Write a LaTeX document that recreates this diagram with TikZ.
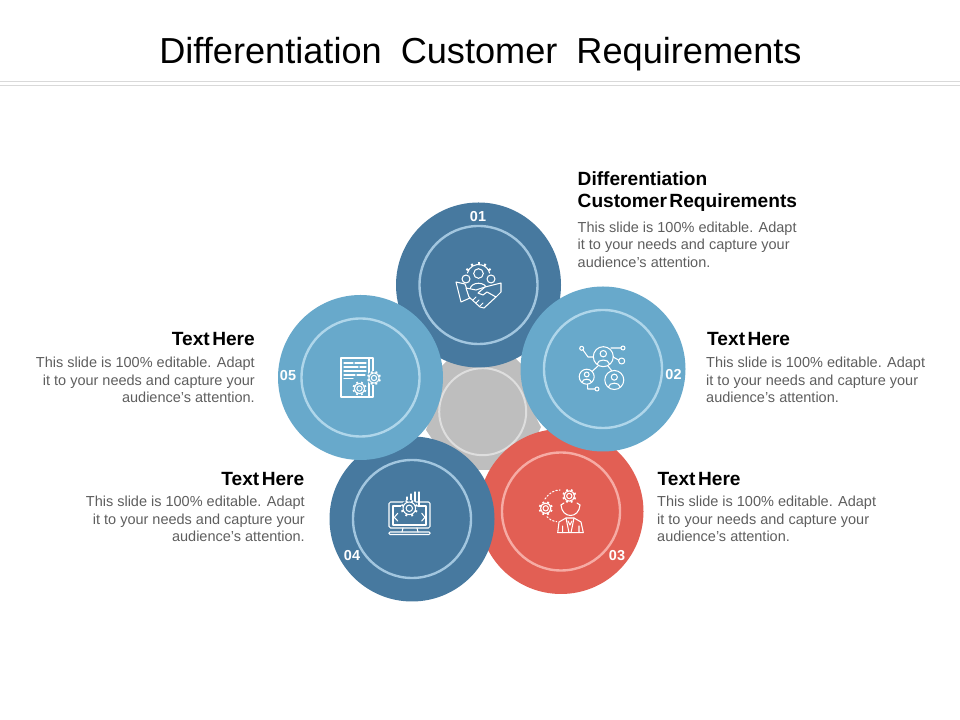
\documentclass[tikz,border=0pt]{standalone}
\usepackage{fontspec}
\setmainfont{Liberation Sans}
\usetikzlibrary{positioning,calc}
\definecolor{steelb}{HTML}{47799F}
\definecolor{skyb}{HTML}{68A9CB}
\definecolor{redc}{HTML}{E25F54}
\definecolor{grayc}{HTML}{BEBEBE}
\definecolor{bodyc}{HTML}{5E5E5E}
\definecolor{steelr}{HTML}{A2C6DF}
\definecolor{skyr}{HTML}{AFD6EA}
\definecolor{redr}{HTML}{F6ABA4}
\definecolor{grayr}{HTML}{DEDEDE}
\tikzset{
  disc/.style={circle,draw=none,minimum size=165bp,inner sep=0pt},
  ring/.style={circle,draw,line width=2.4bp,fill=none,minimum size=118bp,inner sep=0pt},
  numlab/.style={text=white,font=\fontsize{14.5}{14.5}\selectfont\bfseries,inner sep=0pt},
  headlab/.style={text=black,font=\fontsize{19.2}{22.3}\selectfont\bfseries,inner sep=0pt},
  bodylab/.style={text=bodyc,font=\fontsize{14.55}{17.6}\selectfont,inner sep=0pt},
  iconl/.style={draw=white,line width=1.05bp,line join=round,line cap=round,fill=none},
  rulel/.style={draw=black!15,line width=1bp},
}
\newcommand{\headsp}{\spaceskip=2.5bp\relax}
% gear at a point: x, y, radius, colour under it
\newcommand{\gearat}[4]{%
  \fill [#4] (#1,#2) circle (#3*1bp);
  \draw [iconl] (#1,#2) circle (#3*0.74bp);
  \draw [iconl] (#1,#2) circle (#3*0.38bp);
  \foreach \a in {0,45,...,315}
    \draw [iconl,line width=1.9bp,line cap=butt] ($(#1,#2)+(\a+22:#3*0.74bp)$) -- ($(#1,#2)+(\a+22:#3*1bp)$);
}
% head and shoulders in a circle, offsets in bp point upwards
\newcommand{\personat}[3]{%
  \draw [iconl] (#1,#2) circle (#3*1bp);
  \draw [iconl] ($(#1,#2)+(0,#3*0.3bp)$) circle (#3*0.32bp);
  \draw [iconl] ($(#1,#2)+(-#3*0.62bp,-#3*0.74bp)$) .. controls ($(#1,#2)+(-#3*0.55bp,-#3*0.2bp)$) and ($(#1,#2)+(#3*0.55bp,-#3*0.2bp)$) .. ($(#1,#2)+(#3*0.62bp,-#3*0.74bp)$);
}
\begin{document}
\begin{tikzpicture}[x=1bp,y=1bp]
\useasboundingbox (0,0) rectangle (960,720);
%% title
\node (title) at (480.5,665.5) [text=black,inner sep=0pt,font=\fontsize{36.3}{36}\selectfont] {\spaceskip=19bp\relax Differentiation Customer Requirements};
\draw [rulel] (0,638.5) -- (960,638.5);
\draw [rulel] (0,634) -- (960,634);
%% discs
\fill [grayc] (442,354) -- (450,362) -- (515,362) -- (523,354) .. controls (526,335) and (531,310) .. (541,293) -- (532,275) -- (490,250) -- (476,250) -- (436,275) -- (426,290) .. controls (434,310) and (439,335) .. cycle;
\node (gring) at (482.7,308.3) [ring,draw=grayr,line width=2bp,minimum size=87bp] {};
\node (adisc) at (478.5,435) [disc,fill=steelb] {};
\node (aring) at (478.5,435) [ring,draw=steelr] {};
\node (cdisc) at (561,208.5) [disc,fill=redc] {};
\node (cring) at (561,208.5) [ring,draw=redr] {};
\node (ddisc) at (412,201) [disc,fill=steelb] {};
\node (dring) at (412,201) [ring,draw=steelr] {};
\node (bdisc) at (603,351) [disc,fill=skyb] {};
\node (bring) at (603,351) [ring,draw=skyr] {};
\node (edisc) at (360.5,342.5) [disc,fill=skyb] {};
\node (ering) at (360.5,342.5) [ring,draw=skyr] {};
%% numbers
\node (anum) at (478,503) [numlab] {01};
\node (bnum) at (673.5,345) [numlab] {02};
\node (cnum) at (617,164.5) [numlab] {03};
\node (dnum) at (352,164) [numlab] {04};
\node (enum) at (288,344.5) [numlab] {05};
%% texts
\node (ahead) at (577.5,512) [headlab,anchor=base west,align=left] {Differentiation\\\headsp Customer Requirements};
\node (abody) at (577.5,498.5) [bodylab,anchor=north west,align=left] {This slide is 100\% editable. Adapt\\it to your needs and capture your\\audience's attention.};
\node (bhead) at (707,374.5) [headlab,anchor=base west] {\headsp Text Here};
\node (bbody) at (706,363) [bodylab,anchor=north west,align=left] {This slide is 100\% editable. Adapt\\it to your needs and capture your\\audience's attention.};
\node (chead) at (657.5,234.5) [headlab,anchor=base west] {\headsp Text Here};
\node (cbody) at (657,224) [bodylab,anchor=north west,align=left] {This slide is 100\% editable. Adapt\\it to your needs and capture your\\audience's attention.};
\node (dhead) at (304.5,234.5) [headlab,anchor=base east] {\headsp Text Here};
\node (dbody) at (305,224) [bodylab,anchor=north east,align=right] {This slide is 100\% editable. Adapt\\it to your needs and capture your\\audience's attention.};
\node (ehead) at (255,374.5) [headlab,anchor=base east] {\headsp Text Here};
\node (ebody) at (255,363) [bodylab,anchor=north east,align=right] {This slide is 100\% editable. Adapt\\it to your needs and capture your\\audience's attention.};
%% icons, y downwards from the top
\begin{scope}[shift={(0,720)},y=-1bp]
%% icon 01
\draw [iconl] (478.5,276) ++(165:11.5bp) arc (165:15:11.5bp);
\foreach \a in {30,60,90,120,150}
  \draw [iconl,line width=2bp,line cap=butt] ($(478.5,276)+(\a:11.5bp)$) -- ($(478.5,276)+(\a:14bp)$);
\draw [iconl,fill=steelb] (478.5,273.5) circle (4.8bp) (466,279) circle (4bp) (491,279) circle (4bp);
\draw [iconl] (470,290) .. controls (470,281) and (487,281) .. (487,290);
\draw [iconl] (459,288) .. controls (459,285) and (462,285) .. (463,285);
\draw [iconl] (498,288) .. controls (498,285) and (495,285) .. (494,285);
\draw [iconl,fill=steelb] (456,282) -- (465,284) -- (470,298) -- (461,302) -- cycle;
\draw [iconl,fill=steelb] (466,288) -- (476,290) -- (485,287) -- (501,283) -- (501,292) -- (496,297) -- (484,308) -- (480,307) -- (469,297) -- cycle;
\draw [iconl] (485,287) -- (478,293) -- (483,295) -- (487,292) -- (496,297);
\draw [iconl] (473,300) -- (476,297) (476,303) -- (479,300) (480,306) -- (483,303);
%% icon 02
\personat{603.3}{356.7}{10}
\personat{586.7}{376.7}{7.5}
\personat{614.3}{380}{9.5}
\draw [iconl] (598,366) -- (592,371.5) (608,366) -- (612,371);
\draw [iconl] (583,350) -- (588,357) -- (593.5,357);
\draw [iconl] (581.7,348.3) circle (2bp);
\draw [iconl] (611,348) -- (621,348) (623,348) circle (2bp);
\draw [iconl] (613,357) -- (618.5,360) (621.7,361) circle (3bp);
\draw [iconl] (587.7,384.5) -- (587.7,389) -- (595,389) (597,389) circle (2bp);
%% icon 05
\draw [iconl] (341,358) rectangle (373,397);
\draw [iconl] (369,358) -- (369,397);
\draw [iconl] (344,363) -- (353,363) (355,363) -- (366,363) (344,367) -- (358,367) (360,367) -- (366,367) (344,371) -- (366,371) (344,375) -- (355,375) (357,375) -- (365,375) (344,378.5) -- (353,378.5);
\gearat{374}{378}{7}{skyb}
\gearat{359.5}{388.5}{7}{skyb}
%% icon 04
\draw [iconl,rounded corners=1.5bp] (389,502) rectangle (430,528);
\draw [iconl] (393,506) rectangle (426,525);
\draw [iconl,rounded corners=1bp] (389,532) rectangle (430,534.5);
\draw [iconl] (403,528) -- (402,532) (417,528) -- (418,532);
\draw [iconl] (397.7,513.3) -- (394.3,517.3) -- (397.7,521) (421.7,513.3) -- (425,517.3) -- (421.7,521);
\draw [iconl] (407,497) -- (407,500) (411,494) -- (411,502) (415,492) -- (415,502) (419,492) -- (419,506);
\gearat{409.3}{508.3}{8.5}{steelb}
%% icon 03
\gearat{569.3}{496}{7}{redc}
\gearat{545.7}{508.3}{7}{redc}
\draw [iconl,dash pattern=on 1.5bp off 2bp] (545,499) .. controls (549,493) and (554,490) .. (560,490);
\draw [iconl,dash pattern=on 1.5bp off 2bp] (547,516.7) .. controls (549,519) and (552,521) .. (556.7,521.7);
\draw [iconl] (561,505) .. controls (562,519) and (579,519) .. (580,505);
\draw [iconl] (561,505) -- (564,503) (580,505) -- (577,503);
\draw [iconl] (557.7,532.7) -- (559,522) -- (566,518) -- (574,518) -- (581,522) -- (583.3,532.7) -- cycle;
\draw [iconl] (566,518) -- (569,532.7) (574,518) -- (571,532.7);
\draw [iconl] (568,521) -- (570,525) -- (572,521) (562.7,526) -- (562.7,532.7) (579,526) -- (579,532.7);
\end{scope}
\end{tikzpicture}
\end{document}
